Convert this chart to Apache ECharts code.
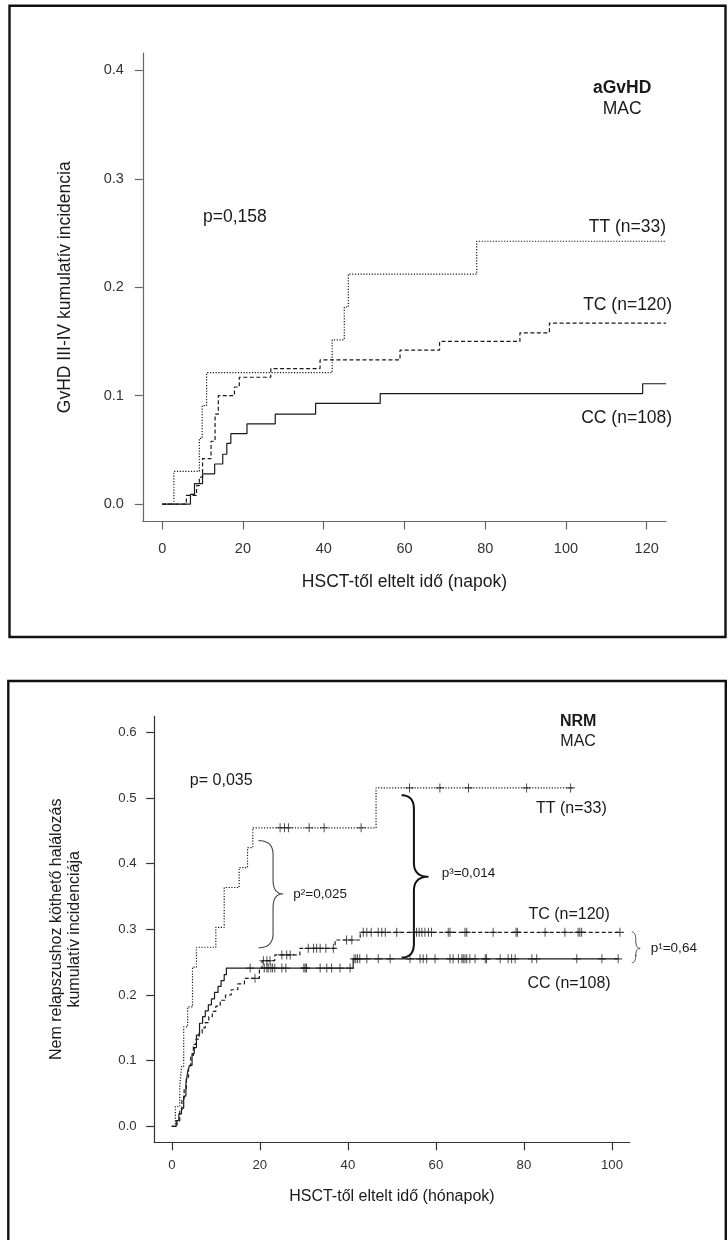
<!DOCTYPE html>
<html><head><meta charset="utf-8">
<script src="https://cdn.jsdelivr.net/npm/echarts@6/dist/echarts.min.js"></script>
<style>html,body{margin:0;padding:0;background:#fff}#c{width:728px;height:1240px}</style>
</head><body><div id="c"></div>
<script>
// ---------- Panel 1: aGvHD (MAC), days ----------
const dayTicks = [0, 20, 40, 60, 80, 100, 120];
const aIncTicks = [0, 0.1, 0.2, 0.3, 0.4];
const aCC_days = [0, 7, 8, 10, 13, 15, 16, 17, 21, 28, 38, 54, 119, 124.8];
const aCC_inc  = [0, 0.009, 0.019, 0.028, 0.037, 0.046, 0.056, 0.065, 0.074, 0.083, 0.093, 0.102, 0.111, 0.111];
const aTC_days = [0, 6, 8.5, 9.2, 10, 12.1, 13.1, 13.9, 17.9, 19.1, 26.9, 39.1, 58.9, 68.7, 88.6, 95.9, 124.8];
const aTC_inc  = [0, 0.008, 0.017, 0.025, 0.042, 0.058, 0.083, 0.1, 0.108, 0.117, 0.125, 0.133, 0.142, 0.15, 0.158, 0.167, 0.167];
const aTT_days = [0, 2.9, 9.2, 9.9, 11, 42.1, 45.1, 46.1, 77.9, 124.8];
const aTT_inc  = [0, 0.0303, 0.0606, 0.0909, 0.1212, 0.1515, 0.1818, 0.2121, 0.2424, 0.2424];

// ---------- Panel 2: NRM (MAC), months ----------
const monthTicks = [0, 20, 40, 60, 80, 100];
const nIncTicks = [0, 0.1, 0.2, 0.3, 0.4, 0.5, 0.6];
const nTT_months = [0, 0.8, 1.8, 2.2, 2.7, 3.6, 4.7, 5.6, 10.0, 11.9, 15.3, 17.2, 18.4, 46.4, 91];
const nTT_inc    = [0, 0.0303, 0.0606, 0.0909, 0.1515, 0.1818, 0.2424, 0.2727, 0.303, 0.3636, 0.3939, 0.4242, 0.4545, 0.5152, 0.5152];
const nTT_cens   = [24.6, 25.6, 26.5, 31.2, 34.6, 43.0, 54.0, 60.9, 67.4, 80.6, 90.6];
const nTC_months = [0, 1.2, 1.8, 2.3, 2.8, 3.3, 3.8, 4.3, 4.9, 5.5, 6.2, 6.9, 7.6, 8.4, 9.2, 10.0, 11.0, 12.2, 13.5, 15.0, 16.5, 19.9, 20.5, 23.4, 29.1, 37.1, 42.8, 101.8];
const nTC_inc    = [0, 0.008, 0.025, 0.042, 0.058, 0.075, 0.092, 0.108, 0.125, 0.133, 0.142, 0.150, 0.158, 0.167, 0.175, 0.183, 0.192, 0.200, 0.208, 0.217, 0.2254, 0.2406, 0.2522, 0.261, 0.271, 0.2837, 0.2954, 0.2954];
const nTC_cens   = [18.9, 20.8, 21.6, 22.3, 25.0, 26.1, 26.9, 31.0, 32.2, 32.9, 33.7, 35.0, 36.7, 39.7, 40.9,
                    43.5, 44.3, 45.3, 46.9, 47.7, 48.5, 51.1, 54.9, 55.6, 56.2, 56.8, 57.5, 58.3, 59.0, 62.8, 63.2, 66.6, 67.0, 73.0, 78.2, 78.5, 84.8, 89.3, 92.3, 92.7, 93.1, 101.8];
const nCC_months = [0, 1.0, 1.6, 2.2, 2.7, 3.2, 3.6, 4.0, 4.6, 5.1, 5.6, 6.3, 7.0, 7.6, 8.3, 9.0, 9.7, 10.5, 11.2, 11.9, 12.4, 41.2, 101.5];
const nCC_inc    = [0, 0.009, 0.019, 0.028, 0.046, 0.065, 0.083, 0.093, 0.111, 0.120, 0.139, 0.157, 0.167, 0.176, 0.185, 0.194, 0.204, 0.213, 0.222, 0.231, 0.241, 0.255, 0.255];
const nCC_cens   = [17.8, 21.0, 21.6, 21.9, 22.5, 22.9, 23.4, 25.0, 25.9, 30.0, 30.3, 30.6, 33.7, 35.2, 36.3, 38.2, 40.5,
                    41.4, 41.8, 42.2, 42.7, 44.3, 46.9, 49.6, 54.1, 56.4, 57.1, 57.9, 59.8, 63.2, 63.9, 65.1, 65.9, 66.2, 66.6, 67.0, 67.7, 68.9, 71.2, 71.5, 74.6, 76.4, 77.2, 78.0, 81.8, 82.9, 92.0, 97.7, 101.4];

// ---------- helpers ----------
const FONT = '"Liberation Sans", Arial, Helvetica, sans-serif';
const INK = '#1a1a1a';
const pairs = (xs, ys) => xs.map((x, i) => [x, ys[i]]);
const stepValue = (xs, ys, t) => { let v = ys[0]; for (let i = 0; i < xs.length; i++) { if (xs[i] <= t) v = ys[i]; } return v; };
const censPairs = (cs, xs, ys) => cs.map(c => [c, stepValue(xs, ys, c)]);
const PLUS = 'path://M3.5,0h1v8h-1zM0,3.5h8v1h-8z';

function xAxis(g, min, max, ticks, name, o) {
  return {
    gridIndex: g, type: 'value', min: min, max: max,
    splitLine: { show: false },
    axisLine: { show: true, onZero: false, lineStyle: { color: o.axisColor, width: 1.2 } },
    axisTick: { show: true, customValues: ticks, length: 8, lineStyle: { color: o.axisColor, width: 1.2 } },
    axisLabel: { customValues: ticks, margin: o.xMargin, fontSize: o.tickSize, color: '#333', fontFamily: FONT },
    name: name, nameLocation: 'middle', nameGap: o.xNameGap,
    nameTextStyle: { fontSize: o.nameSize, color: INK, fontFamily: FONT }
  };
}
function yAxis(g, min, max, ticks, name, o) {
  return {
    gridIndex: g, type: 'value', min: min, max: max,
    splitLine: { show: false },
    axisLine: { show: true, onZero: false, lineStyle: { color: o.axisColor, width: 1.2 } },
    axisTick: { show: true, customValues: ticks, length: 8, lineStyle: { color: o.axisColor, width: 1.2 } },
    axisLabel: { customValues: ticks, margin: o.yMargin, fontSize: o.tickSize, color: '#333', fontFamily: FONT,
                 formatter: v => Number(v).toFixed(1) },
    name: name, nameLocation: 'middle', nameGap: o.yNameGap,
    nameTextStyle: { fontSize: o.nameSize, color: INK, fontFamily: FONT, lineHeight: 18 }
  };
}
function curve(g, data, type) {
  return { type: 'line', xAxisIndex: g, yAxisIndex: g, step: 'end', data: data, symbol: 'none', silent: true,
           lineStyle: { color: INK, width: 1.2, type: type } };
}
function cens(g, data) {
  return { type: 'scatter', xAxisIndex: g, yAxisIndex: g, data: data, symbol: PLUS, symbolSize: [8, 9], silent: true,
           itemStyle: { color: '#222' } };
}
const DASH = [4, 2.5], DOT = [1.2, 1.6];

const o1 = { axisColor: '#666', xMargin: 20, yMargin: 19, tickSize: 14.5, nameSize: 17.5, xNameGap: 52, yNameGap: 69 };
const o2 = { axisColor: '#333', xMargin: 17, yMargin: 17.5, tickSize: 13.2, nameSize: 16, xNameGap: 46, yNameGap: 70.5 };

const chart = echarts.init(document.getElementById('c'), null, { renderer: 'canvas' });
chart.setOption({
  animation: false,
  backgroundColor: '#fff',
  grid: [
    { left: 142.8, top: 53, width: 523.3, height: 468.5 },
    { left: 154.2, top: 716.4, width: 475.4, height: 425.8 }
  ],
  xAxis: [
    xAxis(0, -4.8, 124.8, dayTicks, 'HSCT-től eltelt idő (napok)', o1),
    xAxis(1, -4, 104, monthTicks, 'HSCT-től eltelt idő (hónapok)', o2)
  ],
  yAxis: [
    yAxis(0, -0.016, 0.416, aIncTicks, 'GvHD III-IV kumulatív incidencia', o1),
    yAxis(1, -0.024, 0.624, nIncTicks, 'Nem relapszushoz köthető halálozás\nkumulatív incidenciája', o2)
  ],
  series: [
    curve(0, pairs(aCC_days, aCC_inc), 'solid'),
    curve(0, pairs(aTC_days, aTC_inc), DASH),
    curve(0, pairs(aTT_days, aTT_inc), DOT),
    curve(1, pairs(nCC_months, nCC_inc), 'solid'),
    curve(1, pairs(nTC_months, nTC_inc), DASH),
    curve(1, pairs(nTT_months, nTT_inc), DOT),
    cens(1, censPairs(nCC_cens, nCC_months, nCC_inc)),
    cens(1, censPairs(nTC_cens, nTC_months, nTC_inc)),
    cens(1, censPairs(nTT_cens, nTT_months, nTT_inc))
  ]
});

// ---------- annotations (placed in data coordinates) ----------
const P = (g, x, y) => chart.convertToPixel({ gridIndex: g }, [x, y]);
const notes = [
  { g: 0, x: 113.9, y: 0.384, t: 'aGvHD', s: 17.5, w: 'bold', a: 'center' },
  { g: 0, x: 113.9, y: 0.3638, t: 'MAC', s: 17.5, w: 'normal', a: 'center' },
  { g: 0, x: 10.1, y: 0.265, t: 'p=0,158', s: 17.5, w: 'normal', a: 'left' },
  { g: 0, x: 124.8, y: 0.2558, t: 'TT (n=33)', s: 17.5, w: 'normal', a: 'right' },
  { g: 0, x: 126.3, y: 0.1837, t: 'TC (n=120)', s: 17.5, w: 'normal', a: 'right' },
  { g: 0, x: 126.3, y: 0.0789, t: 'CC (n=108)', s: 17.5, w: 'normal', a: 'right' },
  { g: 1, x: 92.3, y: 0.616, t: 'NRM', s: 16, w: 'bold', a: 'center' },
  { g: 1, x: 92.3, y: 0.5855, t: 'MAC', s: 16, w: 'normal', a: 'center' },
  { g: 1, x: 4.1, y: 0.5257, t: 'p= 0,035', s: 16, w: 'normal', a: 'left' },
  { g: 1, x: 98.8, y: 0.484, t: 'TT (n=33)', s: 16, w: 'normal', a: 'right' },
  { g: 1, x: 99.5, y: 0.3218, t: 'TC (n=120)', s: 16, w: 'normal', a: 'right' },
  { g: 1, x: 99.7, y: 0.2167, t: 'CC (n=108)', s: 16, w: 'normal', a: 'right' },
  { g: 1, x: 27.6, y: 0.354, t: 'p²=0,025', s: 13.5, w: 'normal', a: 'left' },
  { g: 1, x: 61.3, y: 0.385, t: 'p³=0,014', s: 13.5, w: 'normal', a: 'left' },
  { g: 1, x: 108.8, y: 0.271, t: 'p¹=0,64', s: 13.5, w: 'normal', a: 'left' }
];
const braces = [
  { g: 1, x0: 19.7, xs: 23.0, xt: 25.3, yTop: 0.435, yMid: 0.354, yBot: 0.272, lw: 1.1, c: '#444' },
  { g: 1, x0: 52.2, xs: 55.0, xt: 58.3, yTop: 0.504, yMid: 0.380, yBot: 0.257, lw: 2.0, c: '#111' },
  { g: 1, x0: 104.5, xs: 105.4, xt: 106.4, yTop: 0.296, yMid: 0.271, yBot: 0.249, lw: 1.0, c: '#444' }
];
function quad(p0, c, p1, n) {
  const pts = [];
  for (let i = 0; i <= n; i++) {
    const t = i / n, u = 1 - t;
    pts.push([u * u * p0[0] + 2 * u * t * c[0] + t * t * p1[0], u * u * p0[1] + 2 * u * t * c[1] + t * t * p1[1]]);
  }
  return pts;
}
function bracePoints(b) {
  const [X0, YT] = P(b.g, b.x0, b.yTop);
  const XS = P(b.g, b.xs, b.yTop)[0];
  const [XT, YM] = P(b.g, b.xt, b.yMid);
  const YB = P(b.g, b.x0, b.yBot)[1];
  const r = Math.min(14, (YB - YT) / 4);
  let pts = [];
  pts = pts.concat(quad([X0, YT], [XS, YT], [XS, YT + r], 12));
  pts = pts.concat(quad([XS, YM - r], [XS, YM], [XT, YM], 12));
  pts = pts.concat(quad([XT, YM], [XS, YM], [XS, YM + r], 12));
  pts = pts.concat(quad([XS, YB - r], [XS, YB], [X0, YB], 12));
  return pts;
}
const graphics = [
  { type: 'rect', shape: { x: 9.5, y: 5.7, width: 716, height: 631.3 }, style: { fill: null, stroke: '#111', lineWidth: 2.4 } },
  { type: 'rect', shape: { x: 8.3, y: 681, width: 717.5, height: 600 }, style: { fill: null, stroke: '#111', lineWidth: 2.4 } }
];
notes.forEach(n => {
  const [px, py] = P(n.g, n.x, n.y);
  graphics.push({ type: 'text', x: px, y: py, silent: true,
    style: { text: n.t, fontSize: n.s, fontWeight: n.w, fontFamily: FONT, fill: INK, align: n.a, verticalAlign: 'middle' } });
});
braces.forEach(b => {
  graphics.push({ type: 'polyline', silent: true, shape: { points: bracePoints(b) },
    style: { fill: null, stroke: b.c, lineWidth: b.lw } });
});
chart.setOption({ graphic: graphics });
</script>
</body></html>
